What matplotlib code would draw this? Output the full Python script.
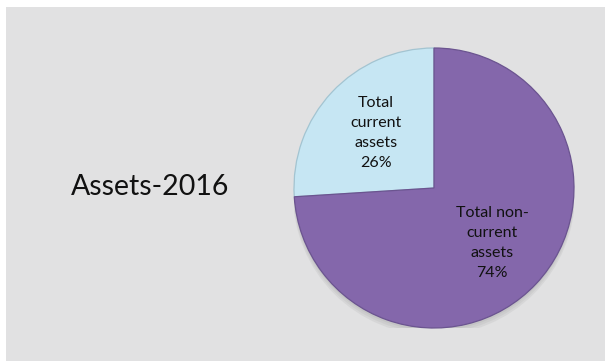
import matplotlib.pyplot as plt
from matplotlib.patches import Rectangle, Circle

labels = ['Total\ncurrent\nassets', 'Total non-\ncurrent\nassets']
shares = [26, 74]
colors = ['#c6e6f3', '#8467ab']
edges = ['#a3c4d1', '#6b5490']

W, H = 605, 361
fig = plt.figure(figsize=(W / 100, H / 100), dpi=100, facecolor='white')

# grey slide background, with a thin white margin on the left and top
bg = fig.add_axes([0, 0, 1, 1], zorder=-1)
bg.axis('off')
bg.set_xlim(0, W)
bg.set_ylim(H, 0)
bg.add_patch(Rectangle((6, 7), W - 6, H - 7, facecolor='#e1e1e2', edgecolor='none'))

bg.text(150, 187, 'Assets-2016', fontsize=20.5, family='Lato',
        color='#111111', ha='center', va='center')

cx, cy, r = 434, H - 188, 140
ax = fig.add_axes([(cx - r) / W, (cy - r) / H, 2 * r / W, 2 * r / H])
ax.axis('off')

# soft shadow under the pie
for k, a in enumerate([0.05, 0.05, 0.06]):
    ax.add_patch(Circle((0, -0.02 - 0.012 * k), 1.0 + 0.004 * k, facecolor='#303030',
                        alpha=a, edgecolor='none', zorder=0))

wedges, texts, autotexts = ax.pie(
    shares, colors=colors, startangle=90, counterclock=True, radius=1.0,
    autopct=lambda p: '', pctdistance=0.57,
    wedgeprops=dict(linewidth=0.9), textprops=dict(family='Lato', fontsize=11.5))
for w, ec in zip(wedges, edges):
    w.set_edgecolor(ec)
    w.set_zorder(2)

for t, lab, val in zip(autotexts, labels, shares):
    t.set_text(f'{lab}\n{val}%')
    t.set_color('#111111')
    t.set_linespacing(1.55)
    t.set_ha('center')
    t.set_va('center')
    t.set_zorder(3)

ax.set_xlim(-1.0, 1.0)
ax.set_ylim(-1.0, 1.0)
ax.set_aspect('equal')

fig.savefig('out.png', dpi=100, facecolor=fig.get_facecolor())
